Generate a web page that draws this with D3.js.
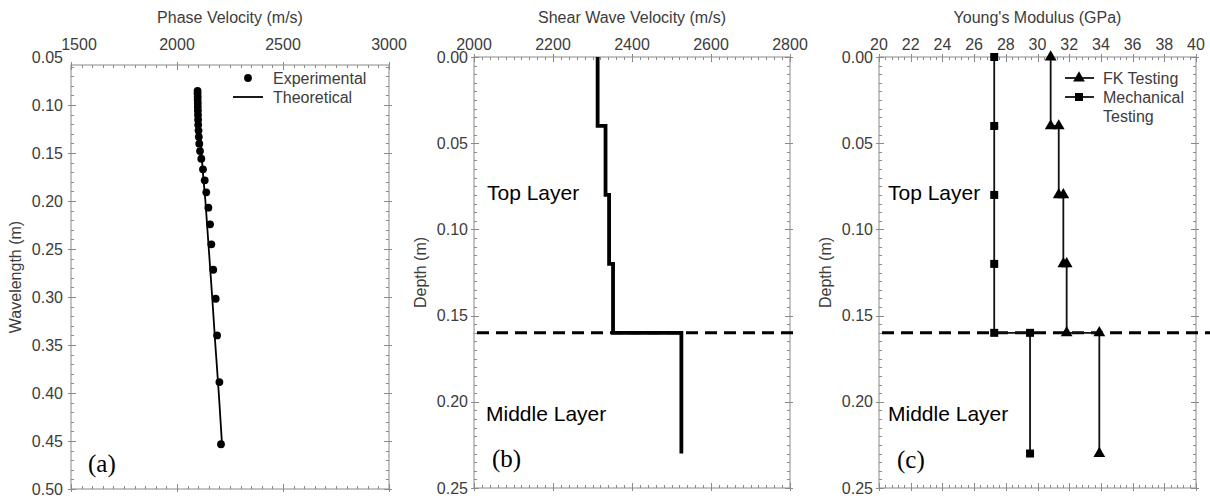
<!DOCTYPE html>
<html><head><meta charset="utf-8">
<script src="https://cdn.jsdelivr.net/npm/d3@7"></script>
<style>
html,body{margin:0;padding:0;background:#fff;}
svg{display:block;font-family:Arial,"Liberation Sans",Helvetica,sans-serif;}
</style></head>
<body>
<svg id="chart" width="1210" height="502"></svg>
<script>
// ---------- Panel (a) data ----------
const aExpVelocity = [2097,2097,2097.5,2097.5,2098,2098,2098.5,2099,2099.5,2100,2101.5,2103,2105,2108.5,2114.7,2122.6,2130.7,2138,2148,2156,2162,2171,2182.5,2189,2200,2207.5];
const aExpWavelength = [0.0853,0.0881,0.0912,0.0945,0.0980,0.1018,0.1060,0.1105,0.1153,0.1207,0.1266,0.1331,0.1403,0.148,0.156,0.167,0.1785,0.191,0.207,0.2243,0.2451,0.2716,0.3018,0.340,0.3886,0.4534];
const aThVelocity = [2097,2100,2106,2113,2121,2134,2150,2166,2181,2197,2212];
const aThWavelength = [0.085,0.10,0.12,0.14,0.1677,0.20,0.25,0.30,0.35,0.40,0.452];
const aXTicks = [1500,2000,2500,3000];
const aYTicks = [0.05,0.10,0.15,0.20,0.25,0.30,0.35,0.40,0.45,0.50];

// ---------- Panel (b) data ----------
const bShearVelocity = [2313,2313,2333,2333,2342,2342,2352,2352,2525,2525];
const bDepth = [0,0.04,0.04,0.08,0.08,0.12,0.12,0.16,0.16,0.23];
const bXTicks = [2000,2200,2400,2600,2800];
const depthTicks = [0.00,0.05,0.10,0.15,0.20,0.25];
const layerBoundary = 0.16;

// ---------- Panel (c) data ----------
const cFkModulus = [30.83,30.83,31.34,31.34,31.63,31.63,31.84,31.84,33.9,33.9];
const cFkDepth = [0,0.04,0.04,0.08,0.08,0.12,0.12,0.16,0.16,0.23];
const cMechModulus = [27.27,27.27,27.27,27.27,27.27,29.53,29.53];
const cMechDepth = [0,0.04,0.08,0.12,0.16,0.16,0.23];
const cXTicks = [20,22,24,26,28,30,32,34,36,38,40];

const svg = d3.select('#chart');
const tickColor = '#3c3c3c';
const frameColor = '#8a8a8a';

function panel(o){
  const g = svg.append('g');
  const x = d3.scaleLinear().domain(o.xDomain).range([o.left, o.right]);
  const y = d3.scaleLinear().domain(o.yDomain).range([o.yTop, o.bottom]);
  const ft = o.frameTop;
  g.append('rect').attr('x',o.left).attr('y',ft).attr('width',o.right-o.left).attr('height',o.bottom-ft)
    .attr('fill','none').attr('stroke',frameColor).attr('stroke-width',1);
  const xm = d3.range(o.xDomain[0], o.xDomain[1]+1e-9, o.xMinor);
  const ym = d3.range(o.yDomain[0], o.yDomain[1]+1e-9, o.yMinor).filter(v=>y(v)>=ft-0.5);
  const tg = g.append('g').attr('stroke',frameColor).attr('stroke-width',1);
  xm.forEach(v=>{
    const px = Math.round(x(v))+0.5;
    tg.append('line').attr('x1',px).attr('x2',px).attr('y1',ft).attr('y2',ft+3);
    tg.append('line').attr('x1',px).attr('x2',px).attr('y1',o.bottom).attr('y2',o.bottom-3);
  });
  ym.forEach(v=>{
    const py = Math.round(y(v))+0.5;
    tg.append('line').attr('x1',o.left).attr('x2',o.left+3).attr('y1',py).attr('y2',py);
    tg.append('line').attr('x1',o.right).attr('x2',o.right-3).attr('y1',py).attr('y2',py);
  });
  o.xTicks.forEach(v=>{
    const px = Math.round(x(v))+0.5;
    tg.append('line').attr('x1',px).attr('x2',px).attr('y1',ft-3).attr('y2',ft+5);
    tg.append('line').attr('x1',px).attr('x2',px).attr('y1',o.bottom+3).attr('y2',o.bottom-5);
  });
  o.yTicks.filter(v=>y(v)>=ft-0.5).forEach(v=>{
    const py = Math.round(y(v))+0.5;
    tg.append('line').attr('x1',o.left-3).attr('x2',o.left+5).attr('y1',py).attr('y2',py);
    tg.append('line').attr('x1',o.right+3).attr('x2',o.right-5).attr('y1',py).attr('y2',py);
  });
  g.append('g').selectAll('text').data(o.xTicks).join('text')
    .attr('x',(d,i)=>x(d)+(i===0?(o.firstXShift||0):0)).attr('y',50)
    .attr('text-anchor','middle').attr('font-size',16).attr('fill',tickColor).text(d=>d);
  g.append('g').selectAll('text').data(o.yTicks).join('text')
    .attr('x',o.left-o.yLabelGap).attr('y',d=>y(d)).attr('dy','0.35em')
    .attr('text-anchor','end').attr('font-size',16).attr('fill',tickColor).text(d=>d.toFixed(2));
  g.append('text').attr('x',(o.left+o.right)/2).attr('y',23).attr('text-anchor','middle')
    .attr('font-size',16).attr('fill',tickColor).text(o.xTitle);
  g.append('text').attr('transform',`translate(${o.yTitleX},${(ft+o.bottom)/2}) rotate(-90)`)
    .attr('text-anchor','middle').attr('dy','0.35em').attr('font-size',16).attr('fill',tickColor).text(o.yTitle);
  g.append('text').attr('x',o.letterX).attr('y',o.letterY).attr('font-family','"Liberation Serif","Times New Roman",serif')
    .attr('font-size',25).attr('fill','#000').text(o.letter);
  return {g,x,y};
}

// ---------- Panel (a) ----------
const pa = panel({left:71,right:389,yTop:57,frameTop:65,bottom:489,xDomain:[1500,3000],yDomain:[0.05,0.5],
  xMinor:50,yMinor:0.01,xTicks:aXTicks,yTicks:aYTicks,yLabelGap:8,firstXShift:8,
  xTitle:'Phase Velocity (m/s)',yTitle:'Wavelength (m)',yTitleX:15,letter:'(a)',letterX:88,letterY:472});
const thLine = d3.line().x(d=>pa.x(d[0])).y(d=>pa.y(d[1]));
pa.g.append('path').datum(aThVelocity.map((v,i)=>[v,aThWavelength[i]]))
  .attr('d',thLine).attr('fill','none').attr('stroke','#000').attr('stroke-width',1.8);
pa.g.append('g').selectAll('circle').data(aExpVelocity.map((v,i)=>[v,aExpWavelength[i]])).join('circle')
  .attr('cx',d=>pa.x(d[0])).attr('cy',d=>pa.y(d[1])).attr('r',3.9).attr('fill','#000');
pa.g.append('circle').attr('cx',248).attr('cy',78).attr('r',3.9).attr('fill','#000');
pa.g.append('text').attr('x',273).attr('y',84).attr('font-size',16).attr('fill',tickColor).text('Experimental');
pa.g.append('line').attr('x1',233).attr('x2',263).attr('y1',97).attr('y2',97).attr('stroke','#000').attr('stroke-width',1.8);
pa.g.append('text').attr('x',273).attr('y',103).attr('font-size',16).attr('fill',tickColor).text('Theoretical');

// ---------- Panel (b) ----------
const pb = panel({left:474,right:790,yTop:57,frameTop:57,bottom:488,xDomain:[2000,2800],yDomain:[0,0.25],
  xMinor:20,yMinor:0.005,xTicks:bXTicks,yTicks:depthTicks,yLabelGap:6,
  xTitle:'Shear Wave Velocity (m/s)',yTitle:'Depth (m)',yTitleX:420,letter:'(b)',letterX:492,letterY:467});
pb.g.append('line').attr('x1',pb.x(2000)+3).attr('x2',800).attr('y1',pb.y(layerBoundary)).attr('y2',pb.y(layerBoundary))
  .attr('stroke','#000').attr('stroke-width',3).attr('stroke-dasharray','12,7');
pb.g.append('path').datum(bShearVelocity.map((v,i)=>[v,bDepth[i]]))
  .attr('d',d3.line().x(d=>pb.x(d[0])).y(d=>pb.y(d[1]))).attr('fill','none').attr('stroke','#000').attr('stroke-width',3.8);
pb.g.append('text').attr('x',487).attr('y',200).attr('font-size',21).attr('fill','#000').text('Top Layer');
pb.g.append('text').attr('x',486).attr('y',421).attr('font-size',21).attr('fill','#000').text('Middle Layer');

// ---------- Panel (c) ----------
const pc = panel({left:879,right:1196,yTop:57,frameTop:57,bottom:488,xDomain:[20,40],yDomain:[0,0.25],
  xMinor:0.4,yMinor:0.005,xTicks:cXTicks,yTicks:depthTicks,yLabelGap:6,
  xTitle:"Young's Modulus (GPa)",yTitle:'Depth (m)',yTitleX:825,letter:'(c)',letterX:897,letterY:468});
pc.g.append('line').attr('x1',pc.x(20)+3).attr('x2',1210).attr('y1',pc.y(layerBoundary)).attr('y2',pc.y(layerBoundary))
  .attr('stroke','#000').attr('stroke-width',3).attr('stroke-dasharray','12,7');
const lc = d3.line().x(d=>pc.x(d[0])).y(d=>pc.y(d[1]));
const fkPts = cFkModulus.map((v,i)=>[v,cFkDepth[i]]);
const mechPts = cMechModulus.map((v,i)=>[v,cMechDepth[i]]);
pc.g.append('path').datum(mechPts).attr('d',lc).attr('fill','none').attr('stroke','#111').attr('stroke-width',1.8);
pc.g.append('path').datum(fkPts).attr('d',lc).attr('fill','none').attr('stroke','#111').attr('stroke-width',1.8);
const tri = d3.symbol().type(d3.symbolTriangle).size(60);
const sq = d3.symbol().type(d3.symbolSquare).size(64);
pc.g.append('g').selectAll('path').data(mechPts).join('path')
  .attr('transform',d=>`translate(${pc.x(d[0])},${pc.y(d[1])})`).attr('d',sq()).attr('fill','#000');
pc.g.append('g').selectAll('path').data(fkPts).join('path')
  .attr('transform',d=>`translate(${pc.x(d[0])},${pc.y(d[1])})`).attr('d',tri()).attr('fill','#000');
pc.g.append('line').attr('x1',1065).attr('x2',1094).attr('y1',78).attr('y2',78).attr('stroke','#111').attr('stroke-width',1.8);
pc.g.append('path').attr('transform','translate(1079,78)').attr('d',tri()).attr('fill','#000');
pc.g.append('text').attr('x',1103).attr('y',84).attr('font-size',16).attr('fill',tickColor).text('FK Testing');
pc.g.append('line').attr('x1',1065).attr('x2',1094).attr('y1',97).attr('y2',97).attr('stroke','#111').attr('stroke-width',1.8);
pc.g.append('path').attr('transform','translate(1079,97)').attr('d',sq()).attr('fill','#000');
pc.g.append('text').attr('x',1103).attr('y',103).attr('font-size',16).attr('fill',tickColor).text('Mechanical');
pc.g.append('text').attr('x',1103).attr('y',122).attr('font-size',16).attr('fill',tickColor).text('Testing');
pc.g.append('text').attr('x',888).attr('y',200).attr('font-size',21).attr('fill','#000').text('Top Layer');
pc.g.append('text').attr('x',888).attr('y',421).attr('font-size',21).attr('fill','#000').text('Middle Layer');
</script>
</body></html>
